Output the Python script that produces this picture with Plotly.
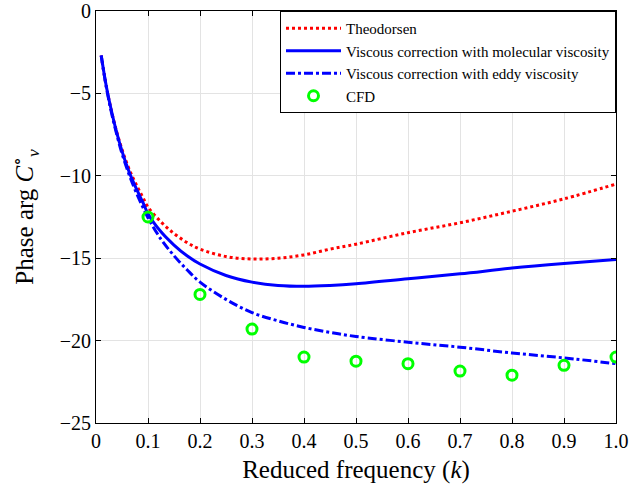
import plotly.graph_objects as go

k = [0.01, 0.02, 0.03, 0.04, 0.05, 0.06, 0.07, 0.08, 0.09, 0.1, 0.125, 0.15, 0.175, 0.2,
     0.25, 0.3, 0.35, 0.4, 0.45, 0.5, 0.6, 0.7, 0.8, 0.9, 1.0]
theodorsen = [-2.7, -4.6, -6.1, -7.35, -8.4, -9.3, -10.05, -10.7, -11.3, -11.9, -12.8, -13.5,
              -14.05, -14.45, -14.9, -15.05, -15.0, -14.8, -14.45, -14.15, -13.45, -12.85,
              -12.15, -11.4, -10.5]
molecular = [-2.7, -4.6, -6.1, -7.4, -8.5, -9.45, -10.25, -10.95, -11.6, -12.3, -13.4, -14.2,
             -14.85, -15.35, -16.05, -16.45, -16.65, -16.7, -16.65, -16.55, -16.25, -15.95,
             -15.6, -15.32, -15.08]
eddy = [-2.7, -4.65, -6.2, -7.5, -8.65, -9.6, -10.45, -11.2, -11.9, -12.55, -13.85, -14.85,
        -15.7, -16.45, -17.5, -18.3, -18.8, -19.2, -19.5, -19.75, -20.1, -20.4, -20.75,
        -21.05, -21.4]
cfd_k = [0.1, 0.2, 0.3, 0.4, 0.5, 0.6, 0.7, 0.8, 0.9, 1.0]
cfd = [-12.5, -17.2, -19.3, -21.0, -21.25, -21.4, -21.85, -22.1, -21.5, -21.0]

x_ticks = [0, 0.1, 0.2, 0.3, 0.4, 0.5, 0.6, 0.7, 0.8, 0.9, 1.0]
x_ticktext = ["0", "0.1", "0.2", "0.3", "0.4", "0.5", "0.6", "0.7", "0.8", "0.9", "1.0"]
y_ticks = [0, -5, -10, -15, -20, -25]
y_ticktext = ["0", "\u22125", "\u221210", "\u221215", "\u221220", "\u221225"]

SERIF = "Liberation Serif, Times New Roman, DejaVu Serif, serif"

fig = go.Figure()
fig.add_trace(go.Scatter(x=k, y=theodorsen, mode="lines", name="Theodorsen",
                         line=dict(color="#ff0000", width=3, dash="dot", shape="spline")))
fig.add_trace(go.Scatter(x=k, y=molecular, mode="lines",
                         name="Viscous correction with molecular viscosity",
                         line=dict(color="#0000ff", width=3, shape="spline")))
fig.add_trace(go.Scatter(x=k, y=eddy, mode="lines",
                         name="Viscous correction with eddy viscosity",
                         line=dict(color="#0000ff", width=3, dash="dashdot", shape="spline")))
fig.add_trace(go.Scatter(x=cfd_k, y=cfd, mode="markers", name="CFD",
                         marker=dict(symbol="circle-open", size=10, color="#00ff00",
                                     line=dict(width=3, color="#00ff00"))))

axis_common = dict(showline=True, linecolor="black", linewidth=1, mirror="allticks",
                   ticks="inside", ticklen=5, tickcolor="black", showgrid=True,
                   gridcolor="#e3e3e3", gridwidth=1, zeroline=False, automargin=False,
                   ticklabeloverflow="allow",
                   tickfont=dict(family=SERIF, size=20, color="black"))

fig.update_xaxes(range=[0, 1], tickvals=x_ticks, ticktext=x_ticktext,
                 title=dict(text="Reduced frequency (<i>k</i>)", standoff=9,
                            font=dict(family=SERIF, size=25, color="black")),
                 **axis_common)
fig.update_yaxes(range=[-25, 0], tickvals=y_ticks, ticktext=y_ticktext,
                 title=dict(text="Phase arg <i>C</i><sup>\u2218</sup><sub><i>v</i></sub>", standoff=18,
                            font=dict(family=SERIF, size=25, color="black")),
                 **axis_common)

fig.update_layout(
    width=631, height=489,
    margin=dict(l=96, r=15, t=11, b=66),
    plot_bgcolor="white", paper_bgcolor="white",
    font=dict(family=SERIF, color="black"),
    legend=dict(x=1, y=1, xanchor="right", yanchor="top",
                bgcolor="white", bordercolor="black", borderwidth=1,
                font=dict(family=SERIF, size=15, color="black"),
                tracegroupgap=0, itemwidth=55),
)

# remove the browser's default 8px page margin so the figure sits at the window origin
fig.write_html("out.html", config={"displayModeBar": False},
               post_script="document.body.style.margin='0';document.body.style.overflow='hidden';")
